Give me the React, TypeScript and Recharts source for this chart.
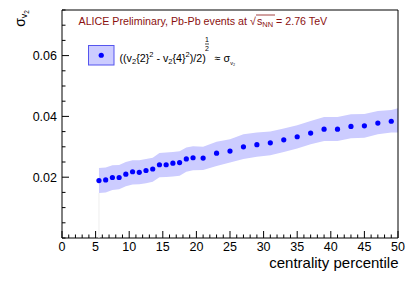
import React from "react";
import {
  Area,
  ComposedChart,
  ReferenceArea,
  ReferenceLine,
  Scatter,
  XAxis,
  YAxis,
} from "recharts";

// centrality bin centres (%)
const CENTRALITY = [
  5.5, 6.5, 7.5, 8.5, 9.5, 10.5, 11.5, 12.5, 13.5, 14.5, 15.5, 16.5, 17.5, 18.5, 19.5,
  21, 23, 25, 27, 29, 31, 33, 35, 37, 39, 41, 43, 45, 47, 49,
];
// sigma_v2 estimate
const SIGMA_V2 = [
  0.0189, 0.0191, 0.0199, 0.0199, 0.021, 0.0218, 0.0216, 0.0222, 0.0227, 0.0241, 0.0241,
  0.0246, 0.0248, 0.026, 0.0264, 0.0263, 0.0279, 0.0286, 0.03, 0.0307, 0.0313, 0.0323,
  0.0333, 0.0345, 0.0358, 0.0358, 0.0367, 0.0369, 0.0378, 0.0384,
];
// systematic band (last entry closes the band at the frame edge)
const BAND_X = [...CENTRALITY, 50];
const BAND_LO = [
  0.0148, 0.015, 0.0158, 0.016, 0.017, 0.0176, 0.0177, 0.018, 0.0185, 0.02, 0.0201,
  0.0202, 0.0205, 0.0218, 0.0223, 0.0224, 0.0237, 0.0248, 0.026, 0.0267, 0.0272, 0.0283,
  0.0294, 0.0308, 0.0319, 0.0319, 0.0328, 0.033, 0.0341, 0.0347, 0.0347,
];
const BAND_HI = [
  0.023, 0.0232, 0.0239, 0.024, 0.025, 0.0256, 0.0256, 0.026, 0.0264, 0.028, 0.0281,
  0.0283, 0.0285, 0.0298, 0.0302, 0.03, 0.0317, 0.0325, 0.0341, 0.0347, 0.035, 0.036,
  0.0371, 0.0385, 0.0398, 0.0398, 0.0407, 0.0408, 0.0418, 0.0421, 0.0427,
];

const X_TICKS = [
  0, 1, 2, 3, 4, 5, 6, 7, 8, 9, 10, 11, 12, 13, 14, 15, 16, 17, 18, 19, 20, 21, 22, 23, 24,
  25, 26, 27, 28, 29, 30, 31, 32, 33, 34, 35, 36, 37, 38, 39, 40, 41, 42, 43, 44, 45, 46,
  47, 48, 49, 50,
];
const X_LABELS = [0, 5, 10, 15, 20, 25, 30, 35, 40, 45, 50];
const Y_TICKS = [
  0, 0.005, 0.01, 0.015, 0.02, 0.025, 0.03, 0.035, 0.04, 0.045, 0.05, 0.055, 0.06, 0.065,
  0.07, 0.075,
];
const Y_LABELS = [0.02, 0.04, 0.06];

const FONT = "'Liberation Sans', Arial, Helvetica, sans-serif";
const BAND_FILL = "#ccccff";
const DOT = "#0000ff";
const TITLE_RED = "#8b1010";

const points = CENTRALITY.map((c, i) => ({ c, s: SIGMA_V2[i] }));
const band = BAND_X.map((c, i) => ({ c, band: [BAND_LO[i], BAND_HI[i]] }));

function XTick(props: any) {
  const { x, y, payload } = props;
  const v = payload.value;
  const major = X_LABELS.includes(v);
  return (
    <g>
      <line x1={x} x2={x} y1={y} y2={y - (major ? 7 : 3.5)} stroke="#000" />
      {major && (
        <text x={x} y={y + 12.5} textAnchor="middle" fontSize={12.5} fontFamily={FONT} fill="#000">
          {v}
        </text>
      )}
    </g>
  );
}

function YTick(props: any) {
  const { x, y, payload } = props;
  const v = payload.value;
  const major = Y_LABELS.some((l) => Math.abs(l - v) < 1e-9);
  return (
    <g>
      <line x1={x} x2={x + (major ? 7 : 3.5)} y1={y} y2={y} stroke="#000" />
      {major && (
        <text x={x - 5} y={y + 4.5} textAnchor="end" fontSize={12.5} fontFamily={FONT} fill="#000">
          {v.toFixed(2)}
        </text>
      )}
    </g>
  );
}

export default function App() {
  return (
    <div style={{ position: "absolute", left: 0, top: 0, width: 415, height: 281, background: "#fff" }}>
      <ComposedChart
        width={415}
        height={281}
        margin={{ top: 10, right: 17, left: 0, bottom: 0 }}
      >
        <XAxis
          dataKey="c"
          type="number"
          domain={[0, 50]}
          ticks={X_TICKS}
          interval={0}
          tickSize={0}
          tickMargin={0}
          tickLine={false}
          axisLine={false}
          tick={<XTick />}
          height={43}
          allowDataOverflow
        />
        <YAxis
          type="number"
          domain={[0, 0.075]}
          ticks={Y_TICKS}
          interval={0}
          tickSize={0}
          tickMargin={0}
          tickLine={false}
          axisLine={false}
          tick={<YTick />}
          width={62}
          allowDataOverflow
        />
        <Area
          data={band}
          dataKey="band"
          type="linear"
          stroke="none"
          fill={BAND_FILL}
          fillOpacity={1}
          activeDot={false}
          isAnimationActive={false}
        />
        <ReferenceLine
          segment={[
            { x: CENTRALITY[0], y: 0 },
            { x: CENTRALITY[0], y: BAND_LO[0] },
          ]}
          stroke="#eeeeee"
          strokeWidth={1}
        />
        <Scatter
          data={points}
          dataKey="s"
          fill={DOT}
          shape={(p: any) => <circle cx={p.cx} cy={p.cy} r={2.6} fill={DOT} />}
          isAnimationActive={false}
        />
        <ReferenceArea x1={0} x2={50} y1={0} y2={0.075} fill="none" stroke="#000" strokeWidth={1} ifOverflow="visible" />
      </ComposedChart>
      <svg
        width={415}
        height={281}
        style={{ position: "absolute", left: 0, top: 0, pointerEvents: "none" }}
      >
        {/* header */}
        <text x={78.5} y={25} fontSize={10.7} fontFamily={FONT} fill={TITLE_RED}>
          ALICE Preliminary, Pb-Pb events at
        </text>
        <text x={250} y={25} fontSize={10.7} fontFamily={FONT} fill={TITLE_RED}>
          <tspan>√</tspan>
          <tspan dx={1}>s</tspan>
          <tspan fontSize={7.5} dy={2}>NN</tspan>
          <tspan dy={-2}> = 2.76 TeV</tspan>
        </text>
        <line x1={256} x2={275} y1={15} y2={15} stroke={TITLE_RED} strokeWidth={0.8} />

        {/* legend */}
        <rect x={88.5} y={45.5} width={25.5} height={19.5} fill={BAND_FILL} stroke="#5555ee" />
        <circle cx={101.25} cy={55.25} r={2.6} fill={DOT} />
        <text x={119.5} y={62} fontSize={10.7} fontFamily={FONT} fill="#000">
          <tspan>((v</tspan>
          <tspan fontSize={7.5} dy={2}>2</tspan>
          <tspan dy={-2}>{"{2}"}</tspan>
          <tspan fontSize={7.5} dy={-5}>2</tspan>
          <tspan dy={5}>{" - v"}</tspan>
          <tspan fontSize={7.5} dy={2}>2</tspan>
          <tspan dy={-2}>{"{4}"}</tspan>
          <tspan fontSize={7.5} dy={-5}>2</tspan>
          <tspan dy={5}>)/2)</tspan>
          <tspan dx={9}>≈ σ</tspan>
          <tspan fontSize={5.5} dy={2.5}>v₂</tspan>
        </text>
        <text x={207} y={42} fontSize={7} fontFamily={FONT} textAnchor="middle">1</text>
        <line x1={205} x2={209} y1={44} y2={44} stroke="#000" strokeWidth={0.7} />
        <text x={207} y={51} fontSize={7} fontFamily={FONT} textAnchor="middle">2</text>

        {/* axis titles */}
        <text
          transform="translate(24.5, 10) rotate(-90)"
          textAnchor="end"
          fontSize={14}
          fontFamily={FONT}
          fill="#000"
        >
          <tspan>σ</tspan>
          <tspan fontSize={9} dy={2.5}>v</tspan>
          <tspan fontSize={6.5} dy={1.5}>2</tspan>
        </text>
        <text x={398.5} y={268} textAnchor="end" fontSize={15} fontFamily={FONT} fill="#000">
          centrality percentile
        </text>
      </svg>
    </div>
  );
}
